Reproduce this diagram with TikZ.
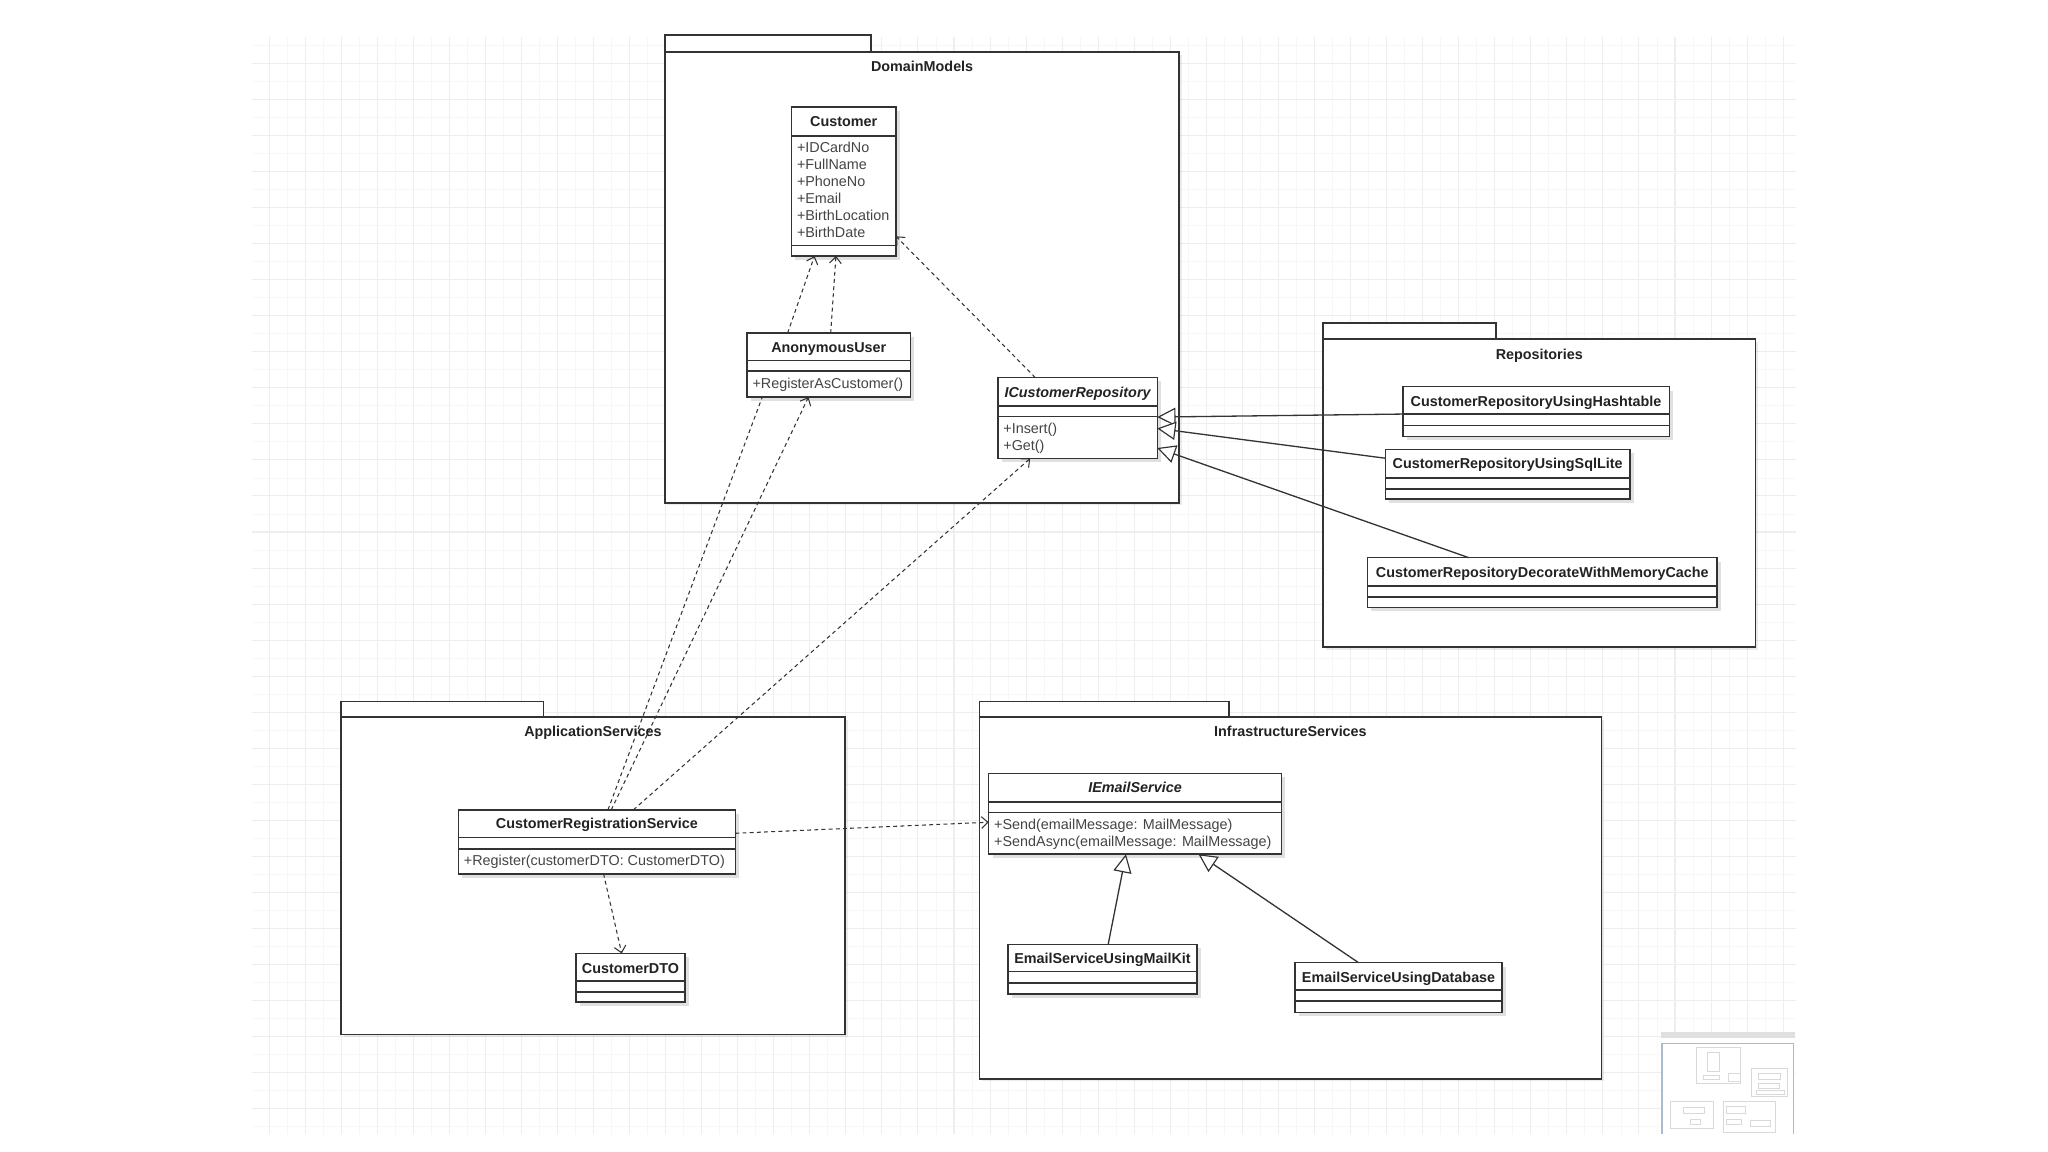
\documentclass[tikz,border=0pt]{standalone}
\usepackage{fontspec}
\setmainfont{Liberation Sans}
\usetikzlibrary{arrows.meta,calc,shadows}
\definecolor{ln}{HTML}{333333}
\definecolor{tc}{HTML}{222222}
\definecolor{mc}{HTML}{444444}
\definecolor{gmaj}{HTML}{EEEEEE}
\definecolor{gmin}{HTML}{F7F7F7}
\definecolor{mapframe}{HTML}{A9BBCD}
\tikzset{
  clsbox/.style={draw=ln, line width=1.1pt, fill=white, inner sep=0pt, outer sep=0pt,
    drop shadow={shadow xshift=3pt, shadow yshift=-3pt, opacity=0.12, fill=black}},
  pkgbox/.style={draw=ln, line width=1.2pt, fill=white, inner sep=0pt, outer sep=0pt,
    drop shadow={shadow xshift=2pt, shadow yshift=-2pt, opacity=0.08, fill=black}},
  pkgtab/.style={draw=ln, line width=1.2pt, fill=white},
  sepline/.style={draw=ln, line width=1.1pt},
  ttl/.style={font=\fontsize{11}{13}\selectfont\bfseries, text=tc, inner sep=0pt, anchor=base},
  ittl/.style={font=\fontsize{11}{13}\selectfont\bfseries\itshape, text=tc, inner sep=0pt, anchor=base},
  mem/.style={font=\fontsize{11}{13}\selectfont, text=mc, inner sep=0pt, anchor=base west},
  dep/.style={draw=ln, line width=0.8pt, dash pattern=on 3pt off 2.5pt,
    -{Straight Barb[length=5pt, width=9pt, line width=0.8pt]}},
  depplain/.style={draw=ln, line width=0.8pt, dash pattern=on 3pt off 2.5pt},
  gen/.style={draw=ln, line width=1pt,
    -{Triangle[open, length=14pt, width=14pt, fill=white, line width=0.9pt]}},
  mini/.style={draw=black!15, line width=0.4pt},
}
\newcommand{\umlcls}[5]{%
  \node[clsbox, anchor=north west, minimum width={(#4-#2)*1pt}, minimum height={(#5-#3)*1pt}] (#1) at (#2,#3) {};}
\newcommand{\umlsep}[2]{%
  \draw[sepline] ([yshift=-#2pt]#1.north west) -- ([yshift=-#2pt]#1.north east);}
\begin{document}
\begin{tikzpicture}[x=1pt,y=-1pt]
\useasboundingbox (0,0) rectangle (1568,882);
\fill[white] (0,0) rectangle (1568,882);
% grid
\begin{scope}
\clip (193,28) rectangle (1375,868);
\foreach \k in {0,...,43} {
  \draw[gmin, line width=0.6pt] (192.2+\k*27.6,28) -- (192.2+\k*27.6,868);
}
\foreach \k in {0,...,31} {
  \draw[gmin, line width=0.6pt] (193,34.7+\k*27.6) -- (1375,34.7+\k*27.6);
}
\foreach \k in {0,...,42} {
  \draw[gmaj, line width=0.8pt] (206+\k*27.6,28) -- (206+\k*27.6,868);
}
\foreach \k in {0,...,30} {
  \draw[gmaj, line width=0.8pt] (193,48.5+\k*27.6) -- (1375,48.5+\k*27.6);
}
\end{scope}

% ---------------- packages ----------------
% DomainModels
\draw[pkgtab] (509,27) rectangle (667,40);
\node[pkgbox, anchor=north west, minimum width=393.7pt, minimum height=345pt] (dm) at (509,40) {};
\node[ttl] (dmlabel) at (706,55) {DomainModels};
% Repositories
\draw[pkgtab] (1013,247.5) rectangle (1145.5,259.6);
\node[pkgbox, anchor=north west, minimum width=331pt, minimum height=235.9pt] (rp) at (1013,259.6) {};
\node[ttl] (rplabel) at (1178.5,275) {Repositories};
% ApplicationServices
\draw[pkgtab] (261,537) rectangle (416,549);
\node[pkgbox, anchor=north west, minimum width=386pt, minimum height=243pt] (as) at (261,549) {};
\node[ttl] (aslabel) at (454,564) {ApplicationServices};
% InfrastructureServices
\draw[pkgtab] (750,537) rectangle (941,549);
\node[pkgbox, anchor=north west, minimum width=476pt, minimum height=277pt] (is) at (750,549) {};
\node[ttl] (islabel) at (988,564) {InfrastructureServices};

% ---------------- classes ----------------
% Customer
\umlcls{cust}{606}{82}{686}{196}
\umlsep{cust}{22}\umlsep{cust}{106}
\node[ttl] (custt) at (646,97) {Customer};
\node[mem] (ca1) at (610,116.6) {+IDCardNo};
\node[mem] (ca2) at (610,129.6) {+FullName};
\node[mem] (ca3) at (610,142.6) {+PhoneNo};
\node[mem] (ca4) at (610,155.6) {+Email};
\node[mem] (ca5) at (610,168.6) {+BirthLocation};
\node[mem] (ca6) at (610,181.6) {+BirthDate};
% AnonymousUser
\umlcls{anon}{572}{255}{697}{304}
\umlsep{anon}{21}\umlsep{anon}{29}
\node[ttl] (anont) at (634.5,269.6) {AnonymousUser};
\node[mem] (anonm) at (576,297.2) {+RegisterAsCustomer()};
% ICustomerRepository
\umlcls{icr}{764}{289}{886}{351}
\umlsep{icr}{22}\umlsep{icr}{30}
\node[ittl] (icrt) at (825,304) {ICustomerRepository};
\node[mem] (icrm1) at (768,332) {+Insert()};
\node[mem] (icrm2) at (768,345) {+Get()};
% Repositories classes
\umlcls{hash}{1074}{296}{1278}{334}
\umlsep{hash}{21}\umlsep{hash}{29.6}
\node[ttl] (hasht) at (1176,311) {CustomerRepositoryUsingHashtable};
\umlcls{sql}{1060.7}{344}{1248}{382}
\umlsep{sql}{22}\umlsep{sql}{30.5}
\node[ttl] (sqlt) at (1154.3,358.6) {CustomerRepositoryUsingSqlLite};
\umlcls{memc}{1047}{427}{1314.6}{465}
\umlsep{memc}{21.6}\umlsep{memc}{30}
\node[ttl] (memct) at (1180.8,442) {CustomerRepositoryDecorateWithMemoryCache};
% CustomerRegistrationService
\umlcls{crs}{351}{620}{563}{669}
\umlsep{crs}{21}\umlsep{crs}{30}
\node[ttl] (crst) at (457,634) {CustomerRegistrationService};
\node[mem] (crsm) at (355,663) {+Register(customerDTO: CustomerDTO)};
% CustomerDTO
\umlcls{dto}{441}{730}{524.5}{767}
\umlsep{dto}{21}\umlsep{dto}{29.6}
\node[ttl] (dtot) at (482.7,745) {CustomerDTO};
% IEmailService
\umlcls{ies}{757}{592}{981}{654}
\umlsep{ies}{22}\umlsep{ies}{30}
\node[ittl] (iest) at (869,606.6) {IEmailService};
\node[mem] (iesm1) at (761,635) {+Send(emailMessage: MailMessage)};
\node[mem] (iesm2) at (761,648.3) {+SendAsync(emailMessage: MailMessage)};
% EmailServiceUsingMailKit
\umlcls{mail}{771.6}{723}{916.6}{761}
\umlsep{mail}{21}\umlsep{mail}{29.7}
\node[ttl] (mailt) at (844.1,738) {EmailServiceUsingMailKit};
% EmailServiceUsingDatabase
\umlcls{db}{991.6}{737}{1150}{775}
\umlsep{db}{21}\umlsep{db}{29.4}
\node[ttl] (dbt) at (1070.8,752) {EmailServiceUsingDatabase};

% ---------------- connectors ----------------
\draw[dep] ($(anon.north west)!0.248!(anon.north east)$) -- ($(cust.south west)!0.22!(cust.south east)$);
\draw[dep] ($(anon.north west)!0.512!(anon.north east)$) -- ($(cust.south west)!0.425!(cust.south east)$);
\draw[dep] ($(icr.north west)!0.234!(icr.north east)$) -- ($(cust.north east)!0.868!(cust.south east)$);
\draw[depplain] ($(crs.north west)!0.54!(crs.north east)$) -- ($(anon.south west)!0.093!(anon.south east)$);
\draw[dep] ($(crs.north west)!0.552!(crs.north east)$) -- ($(anon.south west)!0.376!(anon.south east)$);
\draw[dep] ($(crs.north west)!0.632!(crs.north east)$) -- ($(icr.south west)!0.2025!(icr.south east)$);
\draw[dep] ($(crs.north east)!0.367!(crs.south east)$) -- ($(ies.north west)!0.605!(ies.south west)$);
\draw[dep] ($(crs.south west)!0.524!(crs.south east)$) -- ($(dto.north west)!0.419!(dto.north east)$);
\draw[gen] ($(hash.north west)!0.553!(hash.south west)$) -- ($(icr.north east)!0.489!(icr.south east)$);
\draw[gen] ($(sql.north west)!0.18!(sql.south west)$) -- ($(icr.north east)!0.629!(icr.south east)$);
\draw[gen] ($(memc.north west)!0.29!(memc.north east)$) -- ($(icr.north east)!0.871!(icr.south east)$);
\draw[gen] ($(mail.north west)!0.53!(mail.north east)$) -- ($(ies.south west)!0.469!(ies.south east)$);
\draw[gen] ($(db.north west)!0.306!(db.north east)$) -- ($(ies.south west)!0.717!(ies.south east)$);

% ---------------- minimap ----------------
\fill[black!12] (1272,790) rectangle (1374,795);
\fill[white] (1272,795) rectangle (1374,868);
\draw[mapframe, line width=1pt] (1272.5,868) -- (1272.5,799) -- (1373,799) -- (1373,868);
\draw[mini] (1299,802) rectangle (1332,829);
\draw[mini] (1307,806) rectangle (1316,820);
\draw[mini] (1304,823) rectangle (1316,826);
\draw[mini] (1323,822) rectangle (1332,828);
\draw[mini] (1341,818) rectangle (1368,839);
\draw[mini] (1346,822) rectangle (1363,826);
\draw[mini] (1346,829) rectangle (1362,833);
\draw[mini] (1345,835) rectangle (1366,838);
\draw[mini] (1279,843) rectangle (1312,864);
\draw[mini] (1289,848) rectangle (1305,852);
\draw[mini] (1294,857) rectangle (1302,861);
\draw[mini] (1319,843) rectangle (1359,867);
\draw[mini] (1322,847) rectangle (1336,852);
\draw[mini] (1322,857) rectangle (1333,861);
\draw[mini] (1340,858) rectangle (1355,862);
\end{tikzpicture}
\end{document}
